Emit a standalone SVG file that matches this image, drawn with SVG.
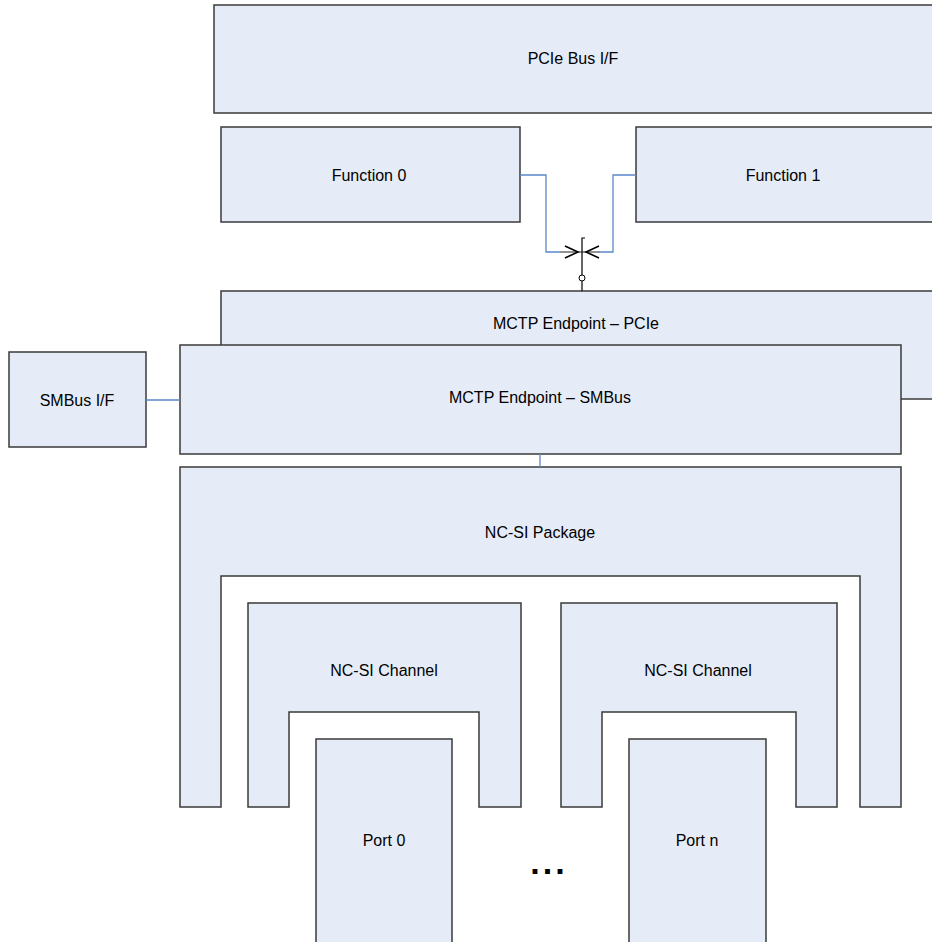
<svg xmlns="http://www.w3.org/2000/svg" width="932" height="942" viewBox="0 0 932 942">
<style>
.box{fill:#E6ECF7;stroke:#3A3A3A;stroke-width:1.5}
.lbl{font-family:"Liberation Sans",Arial,sans-serif;font-size:16px;fill:#000;text-anchor:middle}
.wire{fill:none;stroke:#5B87C9;stroke-width:1.3}
.blk{fill:none;stroke:#000;stroke-width:1.6}
</style>
<rect width="932" height="942" fill="#fff"/>
<g id="pcie-bus"><rect class="box" x="214" y="5" width="730" height="108"/><text class="lbl" x="573" y="64">PCIe Bus I/F</text></g>
<g id="function0"><rect class="box" x="221" y="127" width="299" height="95"/><text class="lbl" x="369" y="181">Function 0</text></g>
<g id="function1"><rect class="box" x="636" y="127" width="310" height="95"/><text class="lbl" x="783" y="181">Function 1</text></g>
<g id="mctp-pcie"><rect class="box" x="221" y="291" width="725" height="108"/><text class="lbl" x="576" y="329">MCTP Endpoint – PCIe</text></g>
<g id="mctp-smbus"><rect class="box" x="180" y="345" width="721" height="109"/><text class="lbl" x="540" y="403">MCTP Endpoint – SMBus</text></g>
<g id="smbus-if"><rect class="box" x="9" y="352" width="137" height="95"/><text class="lbl" x="77" y="406">SMBus I/F</text></g>
<g id="ncsi-package"><path class="box" d="M180 467 H901 V807 H860 V576 H221 V807 H180 Z"/><text class="lbl" x="540" y="538">NC-SI Package</text></g>
<g id="ncsi-channel0"><path class="box" d="M248 603 H521 V807 H479 V712 H289 V807 H248 Z"/><text class="lbl" x="384" y="676">NC-SI Channel</text></g>
<g id="ncsi-channel1"><path class="box" d="M561 603 H837 V807 H796 V712 H602 V807 H561 Z"/><text class="lbl" x="698" y="676">NC-SI Channel</text></g>
<g id="port0"><rect class="box" x="316" y="739" width="136" height="215"/><text class="lbl" x="384" y="846">Port 0</text></g>
<g id="portn"><rect class="box" x="629" y="739" width="137" height="215"/><text class="lbl" x="697" y="846">Port n</text></g>
<g id="ellipsis"><text x="549" y="874" font-family="Liberation Sans,Arial,sans-serif" font-size="34" font-weight="bold" text-anchor="middle" letter-spacing="3">...</text></g>
<g id="connectors">
<polyline class="wire" points="520,175 546,175 546,252 560,252"/>
<line x1="560" y1="252" x2="582" y2="252" stroke="#555" stroke-width="1.3"/>
<polyline class="wire" points="636,175 613,175 613,252 600,252"/>
<line x1="600" y1="252" x2="582" y2="252" stroke="#555" stroke-width="1.3"/>
<polyline class="blk" points="565,246 578,252 565,258"/>
<polyline class="blk" points="599,246 586,252 599,258"/>
<polyline points="585,238 582,238 582,275" fill="none" stroke="#000" stroke-width="1.2"/>
<circle cx="582" cy="278" r="3" fill="#fff" stroke="#000" stroke-width="1"/>
<line x1="582" y1="281" x2="582" y2="291" stroke="#000" stroke-width="1.2"/>
<line class="wire" x1="146" y1="400" x2="180" y2="400"/>
<line class="wire" x1="540" y1="454" x2="540" y2="467"/>
</g>
</svg>
